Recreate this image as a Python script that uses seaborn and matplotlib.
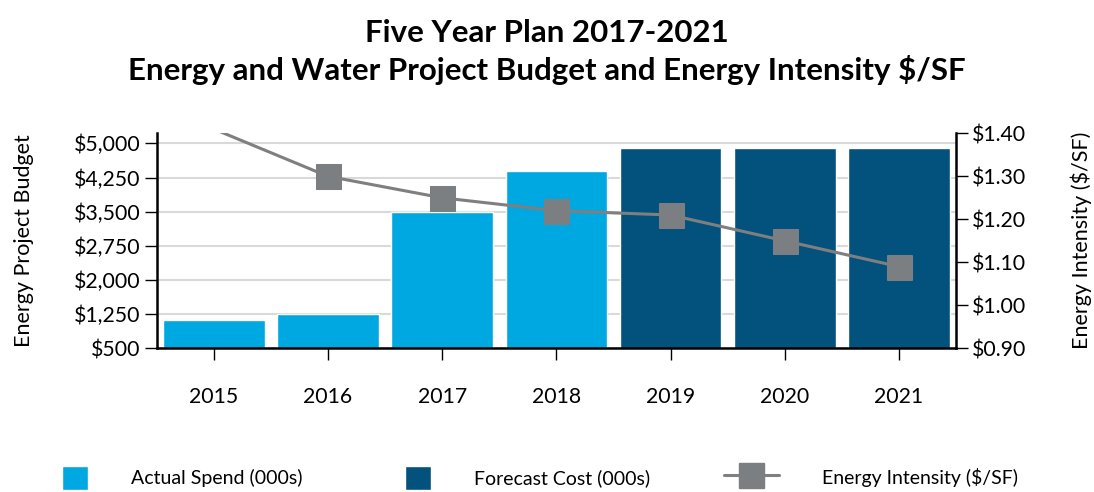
import numpy as np
import pandas as pd
import matplotlib
matplotlib.use("Agg")
import matplotlib.pyplot as plt
import seaborn as sns
from matplotlib.patches import Patch, Rectangle
from matplotlib.lines import Line2D
from matplotlib.legend_handler import HandlerPatch

# ---- data ----
years = ["2015", "2016", "2017", "2018", "2019", "2020", "2021"]
budget = [1120, 1250, 3500, 4390, 4900, 4900, 4900]
status = ["Actual Spend (000s)"] * 4 + ["Forecast Cost (000s)"] * 3
intensity = [1.41, 1.30, 1.25, 1.22, 1.21, 1.15, 1.09]
left_ticks = [500, 1250, 2000, 2750, 3500, 4250, 5000]
right_ticks = [0.90, 1.00, 1.10, 1.20, 1.30, 1.40]
title_lines = ["Five Year Plan 2017-2021",
               "Energy and Water Project Budget and Energy Intensity $/SF"]
line_label = "Energy Intensity ($/SF)"

c_actual = "#00A8E1"
c_forecast = "#02527D"
c_line = "#7F7F7F"
c_marker = "#7B7F82"

sns.set_theme(style="white")
plt.rcParams["font.family"] = ["Lato", "DejaVu Sans"]
for k in ["text.color", "axes.labelcolor", "xtick.color", "ytick.color"]:
    plt.rcParams[k] = "black"

FS_TICK = 15.3
FS_LABEL = 15.5

fig = plt.figure(figsize=(10.94, 4.92), dpi=100)
ax = fig.add_axes([0.1432, 0.2921, 0.7307, 0.4369])

df = pd.DataFrame({"Year": years, "Budget": budget, "Status": status})
sns.barplot(data=df, x="Year", y="Budget", hue="Status",
            palette={"Actual Spend (000s)": c_actual, "Forecast Cost (000s)": c_forecast},
            dodge=False, width=0.89, saturation=1, ax=ax, legend=False)

ax.set_xlim(-0.5, len(years) - 0.5)
ax.set_ylim(500, 5220)
ax.set_yticks(left_ticks)
ax.set_yticklabels([f"${v:,.0f}" for v in left_ticks])
ax.set_axisbelow(True)
ax.yaxis.grid(True, color="#d9d9d9", lw=1.5)
ax.xaxis.grid(False)
for s in ["top", "right"]:
    ax.spines[s].set_visible(False)
for s in ["left", "bottom"]:
    ax.spines[s].set_color("black")
    ax.spines[s].set_linewidth(1.8)
ax.tick_params(axis="y", left=True, direction="out", length=8.6, width=1,
               color="black", labelsize=FS_TICK, pad=3)
ax.tick_params(axis="x", bottom=True, direction="out", length=8.6, width=1,
               color="black", labelsize=FS_TICK, pad=19)
ax.set_xlabel("")
ax.set_ylabel("Energy Project Budget", fontsize=FS_LABEL)
ax.yaxis.set_label_coords(-0.154, 0.5)

ax2 = ax.twinx()
x_pos = np.arange(len(years))
mark_idx = [i for i, v in enumerate(intensity) if v <= right_ticks[-1]]
sns.lineplot(x=x_pos, y=intensity, ax=ax2, color=c_line, lw=2.2,
             marker="s", markersize=18, markerfacecolor=c_marker,
             markeredgecolor=c_marker, markevery=mark_idx)
ax2.set_ylim(right_ticks[0], right_ticks[-1])
ax2.set_yticks(right_ticks)
ax2.set_yticklabels([f"${v:.2f}" for v in right_ticks])
for s in ["top", "left", "bottom"]:
    ax2.spines[s].set_visible(False)
ax2.spines["right"].set_color("black")
ax2.spines["right"].set_linewidth(1.8)
ax2.tick_params(axis="y", right=True, direction="out", length=8.6, width=1,
                color="black", labelsize=FS_TICK, pad=3)
ax2.grid(False)
ax2.set_ylabel(line_label, fontsize=FS_LABEL, rotation=90)
ax2.yaxis.set_label_coords(1.143, 0.5)

fig.text(0.5, 1 - 52 / 492, "\n".join(title_lines), ha="center", va="center",
         fontsize=22.5, fontweight="bold", linespacing=1.33)


def rect_func(legend, orig_handle, xdescent, ydescent, width, height, fontsize):
    w = width * 0.47
    return Rectangle((width - w - xdescent, -ydescent), w, height)


handles = [Patch(facecolor=c_actual, label="Actual Spend (000s)"),
           Patch(facecolor=c_forecast, label="Forecast Cost (000s)"),
           Line2D([0], [0], color=c_line, lw=2.2, marker="s", markersize=18,
                  markerfacecolor=c_marker, markeredgecolor=c_marker,
                  label=line_label)]
fig.legend(handles=handles, loc="center", bbox_to_anchor=(0.48, 1 - 478 / 492),
           ncol=3, frameon=False, fontsize=14, handlelength=2.83,
           handleheight=1.55, handletextpad=2.2, columnspacing=3.8,
           borderpad=0.2, handler_map={Patch: HandlerPatch(patch_func=rect_func)})

fig.savefig("out.png", dpi=100)
